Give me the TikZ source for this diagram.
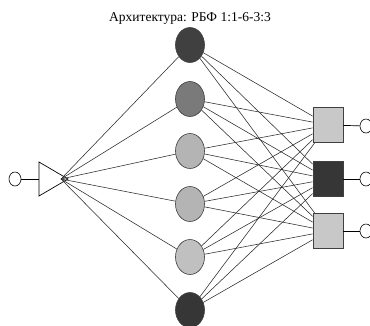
\documentclass[tikz,border=0pt]{standalone}
\usepackage{fontspec}
\setmainfont{Liberation Serif}
\usetikzlibrary{shapes.geometric}
\definecolor{gdark}{HTML}{404040}
\definecolor{gmid}{HTML}{7A7A7A}
\definecolor{glight}{HTML}{B4B4B4}
\definecolor{glighter}{HTML}{C0C0C0}
\definecolor{gblack}{HTML}{363636}
\definecolor{sqlight}{HTML}{C8C8C8}
\definecolor{wire}{HTML}{2A2A2A}
\tikzset{
  hidden/.style={ellipse, draw=gdark, line width=0.6pt, minimum width=29pt, minimum height=35pt, inner sep=0pt},
  outbox/.style={rectangle, draw=gdark, line width=0.8pt, minimum width=30pt, minimum height=35pt, inner sep=0pt},
  port/.style={ellipse, draw=black, line width=0.6pt, minimum width=12pt, minimum height=14pt, inner sep=0pt, fill=white},
  link/.style={draw=wire, line width=0.55pt},
}
\begin{document}
\begin{tikzpicture}[x=1pt,y=-1pt]
\useasboundingbox (0,0) rectangle (370,325);
\fill[white] (0,0) rectangle (370,325);

% title
\node[font=\fontsize{13.5}{15}\selectfont, inner sep=0pt] (title) at (190,18) {Архитектура: РБФ 1:1-6-3:3};

% input layer
\node[port] (in) at (15,179) {};
\coordinate (tl) at (39,162);
\coordinate (tb) at (39,196);
\coordinate (tip) at (68,179);
\coordinate (hub) at (61,179);
\draw[line width=0.7pt] (tl) -- (tip) -- (tb) -- cycle;
\coordinate (tw) at (39,179);
\draw[line width=0.7pt] (in) -- (tw);

% hidden layer
\node[hidden, fill=gdark]   (h1) at (190,45)  {};
\node[hidden, fill=gmid]    (h2) at (190,99)  {};
\node[hidden, fill=glight]  (h3) at (190,151) {};
\node[hidden, fill=glight]  (h4) at (190,204) {};
\node[hidden, fill=glighter](h5) at (190,257) {};
\node[hidden, fill=gblack]  (h6) at (190,310) {};

% output layer
\node[outbox, fill=sqlight] (o1) at (328,125) {};
\node[outbox, fill=gblack]  (o2) at (328,179) {};
\node[outbox, fill=sqlight] (o3) at (328,231) {};

\node[port] (p1) at (366,126) {};
\node[port] (p2) at (366,179) {};
\node[port] (p3) at (366,231) {};

% connections
\begin{scope}[on background layer/.style={}]
\foreach \h in {h1,h2,h3,h4,h5,h6} {
  \path[link] (hub) -- (\h);
  \foreach \o in {o1,o2,o3} {
    \path[link] (\h) -- (\o);
  }
}
\end{scope}
\draw[line width=0.7pt] (o1) -- (p1);
\draw[line width=0.7pt] (o2) -- (p2);
\draw[line width=0.7pt] (o3) -- (p3);
\end{tikzpicture}
\end{document}
